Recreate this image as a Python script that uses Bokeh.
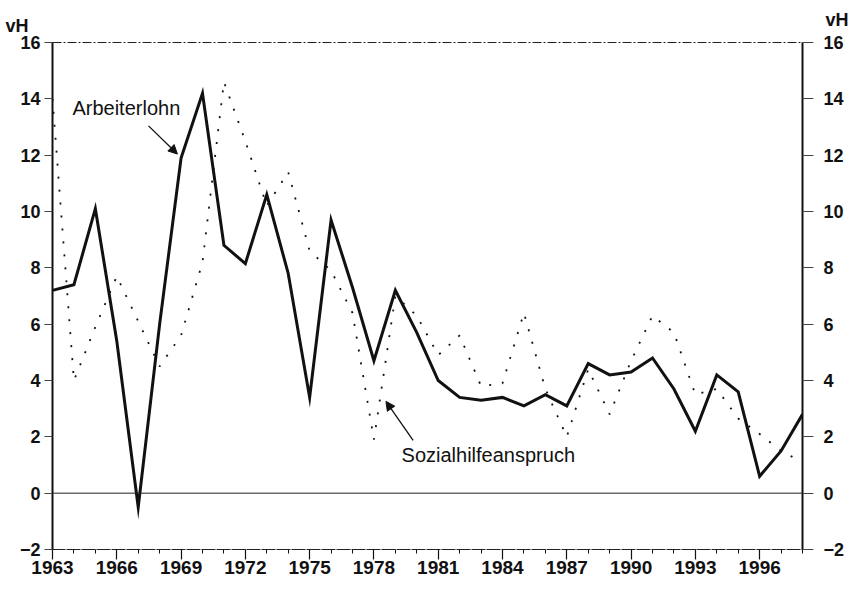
from bokeh.plotting import figure
from bokeh.models import (FixedTicker, Span, Label, Arrow, NormalHead, LinearAxis,
                          Range1d, ColumnDataSource, Title)
from bokeh.embed import file_html
from bokeh.resources import INLINE

# ---- data ----
years = list(range(1963, 1999))
arbeiterlohn = [7.2, 7.4, 10.1, 5.4, -0.5, 6.0, 11.9, 14.2, 8.8, 8.15, 10.6, 7.8,
                3.4, 9.7, 7.3, 4.7, 7.2, 5.7, 4.0, 3.4, 3.3, 3.4, 3.1, 3.5,
                3.1, 4.6, 4.2, 4.3, 4.8, 3.7, 2.2, 4.2, 3.6, 0.6, 1.5, 2.8]
sozialhilfe = [14.0, 4.0, 5.9, 7.7, 6.1, 4.5, 5.6, 8.2, 14.6, 12.5, 10.2, 11.4,
               8.6, 7.9, 6.4, 1.9, 7.0, 6.3, 4.9, 5.6, 3.8, 3.9, 6.4, 3.7,
               2.0, 4.4, 2.8, 4.7, 6.3, 5.7, 3.5, 3.7, 2.65, 2.1, 1.5, 1.1]
x_tick_years = [1963, 1966, 1969, 1972, 1975, 1978, 1981, 1984, 1987, 1990, 1993, 1996]
x_tick_labels = ["1963", "1966", "1969", "1972", "1975", "1978", "1981", "1984",
                 "1987", "1990", "1993", "1996"]
y_ticks = [-2, 0, 2, 4, 6, 8, 10, 12, 14, 16]
unit_label = "vH"
label_lohn = "Arbeiterlohn"
label_sozial = "Sozialhilfeanspruch"

FONT = "Liberation Sans"
INK = "#111111"

src = ColumnDataSource(dict(year=years, lohn=arbeiterlohn, sozial=sozialhilfe))

p = figure(width=857, height=591, x_range=Range1d(1963, 1998), y_range=Range1d(-2, 16),
           output_backend="svg", toolbar_location=None,
           min_border_left=52, min_border_right=55, min_border_top=42, min_border_bottom=42)
p.grid.grid_line_color = None
p.background_fill_color = "white"
p.border_fill_color = "white"
p.outline_line_color = "#222222"
p.outline_line_width = 1
p.outline_line_dash = "9 2 2 2"

# unit labels "vH" above both y axes, drawn as titles
p.title.text = unit_label
p.title.align = "left"
p.title.offset = -47
p.title.standoff = 10
p.title.vertical_align = "top"
p.title.text_font = FONT
p.title.text_font_style = "bold"
p.title.text_font_size = "18px"
p.title.text_color = INK
p.add_layout(Title(text=unit_label, align="right", offset=-46, standoff=-66,
                   vertical_align="top", text_font=FONT, text_font_style="bold",
                   text_font_size="18px", text_color=INK), "above")

# x axis
xa = p.xaxis[0]
xa.ticker = FixedTicker(ticks=x_tick_years, minor_ticks=years)
xa.major_label_overrides = {t: l for t, l in zip(x_tick_years, x_tick_labels)}
xa.major_label_text_font = FONT
xa.major_label_text_font_style = "bold"
xa.major_label_text_font_size = "19px"
xa.major_label_text_color = INK
xa.major_label_standoff = 1
xa.axis_line_color = "#222222"
xa.axis_line_width = 1
xa.axis_line_dash = "9 2 2 2"
xa.major_tick_in = 0
xa.major_tick_out = 10
xa.minor_tick_in = 0
xa.minor_tick_out = 4
xa.major_tick_line_color = INK
xa.minor_tick_line_color = INK
xa.major_tick_line_width = 1.2
xa.minor_tick_line_width = 1

def style_y(ax, tick_out, standoff):
    ax.ticker = FixedTicker(ticks=y_ticks, minor_ticks=[])
    ax.major_label_text_font = FONT
    ax.major_label_text_font_style = "bold"
    ax.major_label_text_font_size = "18px"
    ax.major_label_text_color = INK
    ax.major_label_standoff = standoff
    ax.axis_line_color = INK
    ax.axis_line_width = 2
    ax.major_tick_in = 0
    ax.major_tick_out = tick_out
    ax.major_tick_line_color = "#444444"
    ax.major_tick_line_width = 1
    ax.minor_tick_line_color = None

style_y(p.yaxis[0], 8, 4)
ra = LinearAxis()
style_y(ra, 11, 10)
p.add_layout(ra, "right")

# zero line
p.add_layout(Span(location=0, dimension="width", line_color="#222222", line_width=1))

# series
p.line("year", "sozial", source=src, line_color=INK, line_width=1.8, line_dash="2 11")
p.line("year", "lohn", source=src, line_color=INK, line_width=3, line_join="miter")

# annotations
p.add_layout(Label(x=1963.93, y=13.66, text=label_lohn, text_font=FONT,
                   text_font_size="20px", text_color=INK,
                   text_baseline="alphabetic", text_align="left"))
p.add_layout(Arrow(x_start=1967.48, y_start=13.04, x_end=1968.83, y_end=12.04,
                   line_color=INK, line_width=1.3,
                   end=NormalHead(size=9, fill_color=INK, line_color=INK)))
p.add_layout(Label(x=1979.29, y=1.36, text=label_sozial, text_font=FONT,
                   text_font_size="20px", text_color=INK,
                   text_baseline="alphabetic", text_align="left"))
p.add_layout(Arrow(x_start=1979.83, y_start=1.87, x_end=1978.56, y_end=3.26,
                   line_color=INK, line_width=1.3,
                   end=NormalHead(size=9, fill_color=INK, line_color=INK)))

open("out.html", "w").write(file_html(p, INLINE))
